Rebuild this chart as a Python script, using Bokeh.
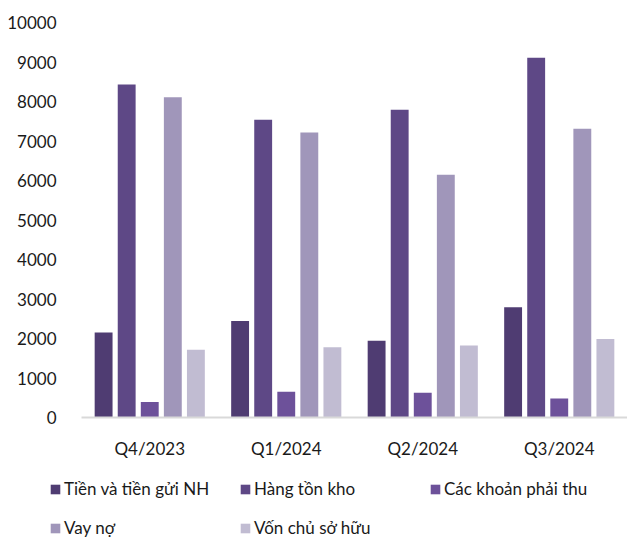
from bokeh.plotting import figure
from bokeh.layouts import column
from bokeh.models import ColumnDataSource, Legend, LegendItem, FactorRange, NumeralTickFormatter
from bokeh.transform import dodge
from bokeh.embed import file_html
from bokeh.resources import INLINE

quarters = ["Q4/2023", "Q1/2024", "Q2/2024", "Q3/2024"]
series_names = ["Tiền và tiền gửi NH", "Hàng tồn kho", "Các khoản phải thu", "Vay nợ", "Vốn chủ sở hữu"]
tien = [2150, 2440, 1940, 2790]
hang = [8430, 7540, 7790, 9110]
phai_thu = [390, 650, 625, 480]
vay = [8110, 7215, 6145, 7310]
von = [1715, 1780, 1825, 1990]
y_ticks = [0, 1000, 2000, 3000, 4000, 5000, 6000, 7000, 8000, 9000, 10000]

colors = ["#4f3c72", "#5e4886", "#6d519a", "#a096ba", "#c1bcd2"]
keys = ["tien", "hang", "phai_thu", "vay", "von"]

src = ColumnDataSource(dict(q=quarters, tien=tien, hang=hang, phai_thu=phai_thu, vay=vay, von=von))

FONT = "Lato"
TXT = "#1a1a1a"

p = figure(x_range=FactorRange(*quarters, range_padding=0), y_range=(0, 10000),
           width=627, height=461, output_backend="svg", toolbar_location=None,
           min_border_left=81, min_border_right=0, min_border_top=22, min_border_bottom=44)
p.outline_line_color = None
p.xgrid.grid_line_color = None
p.ygrid.grid_line_color = None

step = 0.169
bw = 0.131
for i, (k, c) in enumerate(zip(keys, colors)):
    off = (i - 2) * step
    p.vbar(x=dodge("q", off, range=p.x_range), top=k, width=bw, source=src,
           fill_color=c, line_color=None)

p.yaxis.ticker = y_ticks
p.yaxis.formatter = NumeralTickFormatter(format="0")
p.yaxis.axis_line_color = None
p.yaxis.major_tick_line_color = None
p.yaxis.minor_tick_line_color = None
p.yaxis.major_label_text_font = FONT
p.yaxis.major_label_text_font_size = "17px"
p.yaxis.major_label_text_color = TXT
p.yaxis.major_label_standoff = 19

p.xaxis.axis_line_color = "#d9d9d9"
p.xaxis.axis_line_width = 2
p.xaxis.major_tick_line_color = None
p.xaxis.minor_tick_line_color = None
p.xaxis.major_label_text_font = FONT
p.xaxis.major_label_text_font_size = "17px"
p.xaxis.major_label_text_color = TXT
p.xaxis.major_label_standoff = 14

# legend in its own strip below the chart
lp = figure(width=627, height=77, x_range=(0, 1), y_range=(0, 1),
            x_axis_location=None, y_axis_location=None,
            output_backend="svg", toolbar_location=None,
            min_border_left=0, min_border_right=0, min_border_top=0, min_border_bottom=0)
lp.outline_line_color = None
lp.grid.visible = False

can_unalign = "frame_align" in lp.properties()
if can_unalign:
    p.frame_align = False
    lp.frame_align = False
    leg_x, lab_w = 49, 157
else:
    leg_x, lab_w = 0, 142

lrs = [lp.vbar(x=[0], top=[0], width=0, fill_color=c, line_color=None) for c in colors]
items = [LegendItem(label=n, renderers=[r]) for n, r in zip(series_names, lrs)]
leg = Legend(items=items, location=(leg_x, 0), orientation="horizontal", ncols=3,
             padding=0, margin=0, spacing=18, border_line_color=None, background_fill_alpha=0,
             glyph_width=12, glyph_height=12, label_standoff=3, label_width=lab_w,
             label_height=20, label_text_font=FONT, label_text_font_size="17px",
             label_text_color=TXT)
lp.add_layout(leg, "center")

open("out.html", "w").write(file_html(column(p, lp, spacing=0), INLINE))
